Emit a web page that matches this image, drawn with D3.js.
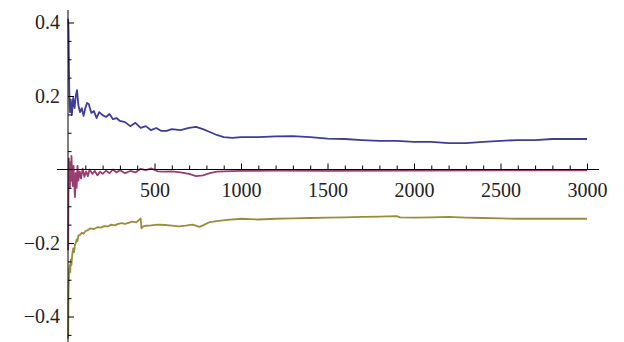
<!DOCTYPE html>
<html lang="en">
<meta charset="utf-8">
<head>
    <script src="https://d3js.org/d3.v7.min.js"></script>
    <style>
        body { margin: 0; background: #fff; }
        .tick text { font-family: "Liberation Serif", "DejaVu Serif", serif; font-size: 20px; fill: #222; }
    </style>
</head>
<body>
<script>
    // sample index (n) and values
    var blueN = [1,3,5,8,12,16,22,30,38,45,52,60,70,80,90,100,110,120,135,150,165,180,200,220,240,260,280,300,330,360,390,420,450,480,510,540,570,600,650,700,740,780,820,860,900,950,1000,1100,1200,1300,1400,1500,1600,1700,1800,1900,2000,2100,2200,2300,2400,2500,2600,2700,2800,2900,3000];
    var blueV = [0.41,0.38,0.30,0.20,0.156,0.19,0.148,0.195,0.167,0.20,0.216,0.175,0.156,0.167,0.146,0.167,0.181,0.178,0.154,0.159,0.14,0.156,0.148,0.143,0.151,0.137,0.14,0.132,0.129,0.118,0.127,0.113,0.118,0.107,0.113,0.105,0.105,0.11,0.107,0.113,0.116,0.11,0.102,0.094,0.088,0.086,0.088,0.088,0.09,0.091,0.088,0.084,0.083,0.08,0.078,0.078,0.075,0.075,0.072,0.072,0.075,0.078,0.08,0.08,0.083,0.083,0.083];

    var magN = [1,2,3,5,7,9,11,14,17,20,24,28,32,36,40,45,50,55,60,68,75,85,95,105,115,125,140,155,170,185,200,220,240,260,280,300,330,360,390,420,450,480,520,560,600,650,700,740,780,820,860,900,1000,1200,1500,2000,2500,3000];
    var magV = [-0.22,-0.12,-0.03,0.03,-0.04,0.0,-0.05,0.02,-0.03,0.037,-0.02,-0.045,0.01,-0.035,-0.075,-0.01,-0.05,0.01,-0.03,-0.005,-0.025,0.002,-0.02,-0.005,-0.018,0.0,-0.012,-0.004,-0.016,-0.006,-0.012,-0.003,-0.01,0.0,-0.008,-0.002,-0.01,-0.004,-0.008,0.002,-0.002,0.003,-0.005,-0.006,-0.005,-0.008,-0.012,-0.018,-0.016,-0.01,-0.006,-0.005,-0.004,-0.003,-0.004,-0.003,-0.002,-0.002];

    var oliveN = [1,2,3,5,7,10,13,16,20,25,30,35,40,45,50,55,60,70,80,90,100,115,130,150,170,190,210,230,250,270,290,310,330,350,370,395,420,425,435,450,480,520,560,600,640,680,720,760,780,820,870,920,1000,1100,1200,1300,1400,1500,1600,1700,1800,1900,1920,2000,2100,2200,2300,2400,2500,2600,2700,2800,2900,3000];
    var oliveV = [-0.46,-0.40,-0.33,-0.30,-0.27,-0.26,-0.28,-0.245,-0.26,-0.23,-0.215,-0.225,-0.205,-0.2,-0.19,-0.195,-0.18,-0.178,-0.172,-0.175,-0.168,-0.165,-0.16,-0.162,-0.157,-0.158,-0.154,-0.155,-0.15,-0.152,-0.148,-0.146,-0.148,-0.145,-0.142,-0.144,-0.133,-0.16,-0.155,-0.153,-0.152,-0.15,-0.151,-0.153,-0.155,-0.153,-0.15,-0.156,-0.152,-0.143,-0.14,-0.137,-0.134,-0.136,-0.134,-0.133,-0.132,-0.131,-0.13,-0.129,-0.128,-0.127,-0.13,-0.131,-0.13,-0.129,-0.131,-0.132,-0.133,-0.134,-0.134,-0.134,-0.134,-0.134];

    var xMajor = [500, 1000, 1500, 2000, 2500, 3000];
    var yMajor = [-0.4, -0.2, 0.2, 0.4];

    var width = 624, height = 342;

    var svg = d3.select("body").append("svg")
        .attr("width", width)
        .attr("height", height);

    var x = d3.scaleLinear().domain([0, 3000]).range([68, 587]);
    var y = d3.scaleLinear().domain([0.4, -0.4]).range([22.5, 316.5]);

    function series(ns, vs) {
        return ns.map(function(n, i) { return {n: n, v: vs[i]}; });
    }

    var line = d3.line()
        .x(function(d) { return x(d.n); })
        .y(function(d) { return y(d.v); });

    var data = [
        {pts: series(blueN, blueV), color: "#3e3d99"},
        {pts: series(magN, magV), color: "#993d71"},
        {pts: series(oliveN, oliveV), color: "#998d3d"}
    ];

    svg.selectAll(".series")
        .data(data)
        .enter()
        .append("path")
        .attr("class", "series")
        .attr("fill", "none")
        .attr("stroke", function(d) { return d.color; })
        .attr("stroke-width", 1.8)
        .attr("stroke-linejoin", "round")
        .attr("d", function(d) { return line(d.pts); });

    // x axis, ticks point up
    var minorX = d3.range(100, 3001, 100).filter(function(v) { return v % 500 != 0; });
    var gx = svg.append("g").attr("transform", "translate(0," + y(0) + ")");
    gx.append("line")
        .attr("x1", 57).attr("x2", 599)
        .attr("stroke", "#000").attr("stroke-width", 1);
    gx.append("g")
        .call(d3.axisBottom(x).tickValues(minorX).tickSize(-4).tickFormat(""))
        .call(function(g) { g.select(".domain").remove(); });
    gx.append("g")
        .call(d3.axisBottom(x).tickValues(xMajor).tickSize(-6).tickPadding(13).tickFormat(d3.format("d")))
        .call(function(g) { g.select(".domain").remove(); })
        .selectAll("text").attr("font-family", null).attr("font-size", null);

    // y axis, ticks point right
    var minorY = d3.range(-9, 9).map(function(k) { return k * 0.05; })
        .filter(function(v) { return Math.abs(v * 10 - Math.round(v * 10)) > 0.01 || Math.round(v * 10) % 2 != 0; });
    var gy = svg.append("g").attr("transform", "translate(" + x(0) + ",0)");
    gy.append("line")
        .attr("y1", 10).attr("y2", 342)
        .attr("stroke", "#000").attr("stroke-width", 1);
    gy.append("g")
        .call(d3.axisLeft(y).tickValues(minorY).tickSize(-3.5).tickFormat(""))
        .call(function(g) { g.select(".domain").remove(); });
    gy.append("g")
        .call(d3.axisLeft(y).tickValues(yMajor).tickSize(-6).tickPadding(8).tickFormat(d3.format(".1f")))
        .call(function(g) { g.select(".domain").remove(); })
        .selectAll("text").attr("font-family", null).attr("font-size", null);
</script>
</body>
</html>
